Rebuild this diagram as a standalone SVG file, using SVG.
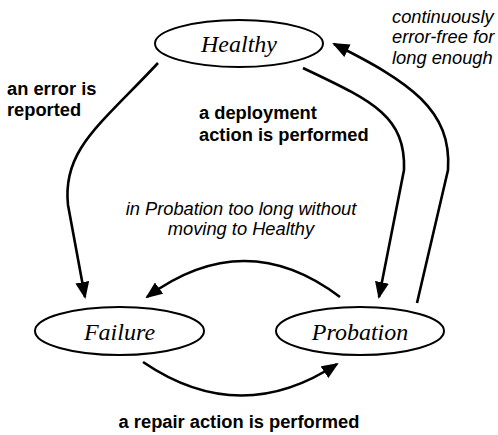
<svg xmlns="http://www.w3.org/2000/svg" width="498" height="435" viewBox="0 0 498 435">
<defs>
<marker id="arr" markerUnits="userSpaceOnUse" markerWidth="17" markerHeight="14" refX="15" refY="7" orient="auto">
<path d="M0,0 L17,7 L0,14 z" fill="#000"/>
</marker>
<style>
.state{fill:#fff;stroke:#000;stroke-width:2}
.sname{font-family:"Liberation Serif","Times New Roman",serif;font-style:italic;font-size:24px;fill:#000;text-anchor:middle}
.edge{fill:none;stroke:#000;stroke-width:2.6;marker-end:url(#arr)}
.lb{font-family:"Liberation Sans",Arial,sans-serif;font-weight:bold;font-size:18.3px;fill:#000}
.li{font-family:"Liberation Sans",Arial,sans-serif;font-style:italic;font-size:18.3px;fill:#000}
</style>
</defs>
<rect width="498" height="435" fill="#fff"/>
<g id="connectors">
<path class="edge" d="M158,63 C100,125 62,150 68,205 L85,297"/>
<path class="edge" d="M303,68 C370,100 406,115 404,170 L379,297"/>
<path class="edge" d="M417,303 L448,170 C452,110 410,82 334,44"/>
<path class="edge" d="M340,297 Q245,225 147,297"/>
<path class="edge" d="M143,362 Q240,428 337,364"/>
</g>
<g id="healthy">
<ellipse class="state" cx="239" cy="43.5" rx="84" ry="23.5"/>
<text class="sname" x="239" y="52">Healthy</text>
</g>
<g id="failure">
<ellipse class="state" cx="119.5" cy="331" rx="84.5" ry="24"/>
<text class="sname" x="119.5" y="339.5">Failure</text>
</g>
<g id="probation">
<ellipse class="state" cx="360" cy="331" rx="84" ry="24"/>
<text class="sname" x="360" y="339.5">Probation</text>
</g>
<g id="labels">
<text class="lb" x="7" y="95">an error is</text>
<text class="lb" x="7" y="116">reported</text>
<text class="lb" x="199" y="119">a deployment</text>
<text class="lb" x="199" y="141">action is performed</text>
<text class="li" x="241" y="215" text-anchor="middle">in Probation too long without</text>
<text class="li" x="241" y="235" text-anchor="middle">moving to Healthy</text>
<text class="li" x="392" y="23">continuously</text>
<text class="li" x="392" y="43">error-free for</text>
<text class="li" x="392" y="64">long enough</text>
<text class="lb" x="239" y="428" text-anchor="middle">a repair action is performed</text>
</g>
</svg>
